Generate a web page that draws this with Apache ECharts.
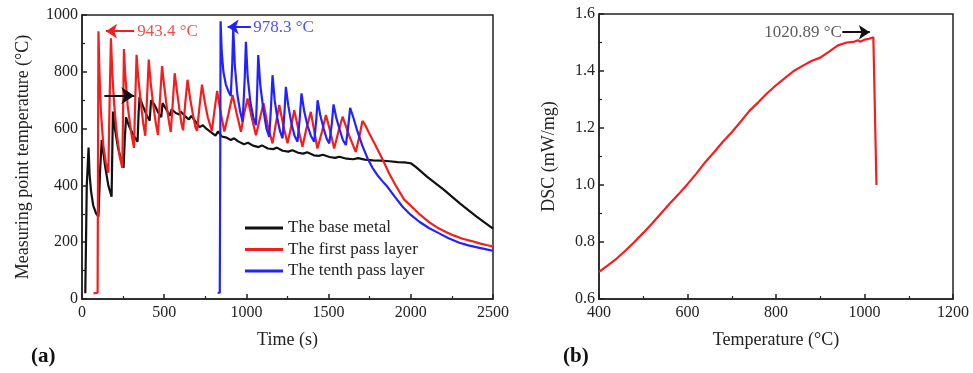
<!DOCTYPE html>
<html>
<head>
<meta charset="utf-8">
<script src="https://cdn.jsdelivr.net/npm/echarts@6/dist/echarts.min.js"></script>
<style>html,body{margin:0;padding:0;background:#fff}#c{width:973px;height:373px}</style>
</head>
<body>
<div id="c"></div>
<script>
// ---- data ----
const seriesNames = ['The base metal', 'The first pass layer', 'The tenth pass layer'];
const baseMetal = [[20,20],[27,22],[29,400],[36,402],[40,533],[46,440],[55,380],[68,330],[85,302],[100,290],[110,450],[120,560],[140,470],[160,400],[180,360],[188,660],[200,600],[220,530],[240,485],[253,462],[260,560],[268,640],[285,610],[310,580],[338,554],[344,650],[350,712],[370,680],[395,645],[412,628],[420,700],[440,685],[465,655],[482,640],[490,690],[510,670],[535,645],[545,668],[570,655],[592,650],[600,660],[625,645],[650,632],[665,645],[690,625],[715,605],[735,612],[760,598],[790,585],[812,575],[828,590],[850,572],[880,568],[905,560],[925,566],[950,555],[985,545],[1010,550],[1040,540],[1075,535],[1095,541],[1130,530],[1165,528],[1185,533],[1220,522],[1255,519],[1280,524],[1315,515],[1345,512],[1370,517],[1410,506],[1440,504],[1465,508],[1505,500],[1540,497],[1565,501],[1610,494],[1650,492],[1680,496],[1720,491],[1770,488],[1820,487],[1870,485],[1920,482],[1960,481],[2000,478],[2030,465],[2100,430],[2200,385],[2300,336],[2400,290],[2500,248]];
const firstPass = [[70,20],[95,22],[98,600],[100,943],[106,800],[115,660],[130,540],[145,480],[160,445],[168,700],[176,918],[184,800],[195,690],[212,580],[230,500],[245,462],[251,700],[255,880],[263,790],[278,680],[298,590],[316,532],[324,700],[332,860],[342,780],[358,690],[372,620],[385,575],[395,700],[406,843],[418,760],[434,680],[450,615],[462,578],[474,700],[487,820],[500,750],[516,675],[530,620],[540,588],[552,690],[564,795],[578,730],[593,665],[606,615],[615,594],[628,690],[642,772],[658,705],[676,645],[690,605],[700,592],[715,680],[730,755],[748,690],[765,640],[790,592],[805,660],[822,733],[842,660],[866,590],[890,650],[916,718],[940,655],[967,589],[985,650],[1007,706],[1032,640],[1058,577],[1080,630],[1104,689],[1130,610],[1159,548],[1180,620],[1200,683],[1225,610],[1250,548],[1270,600],[1291,665],[1315,600],[1341,536],[1365,600],[1392,659],[1410,600],[1432,530],[1460,590],[1484,648],[1510,590],[1534,530],[1560,590],[1585,642],[1625,575],[1665,518],[1690,580],[1706,627],[1720,615],[1750,580],[1777,550],[1808,515],[1838,480],[1870,440],[1910,398],[1960,350],[2011,322],[2060,295],[2113,270],[2160,252],[2214,236],[2260,224],[2315,212],[2370,204],[2418,196],[2460,190],[2500,185]];
const tenthPass = [[825,22],[838,22],[841,500],[843,978],[850,870],[860,800],[875,755],[893,728],[905,715],[914,830],[920,953],[930,820],[945,720],[962,660],[977,624],[990,780],[997,906],[1008,780],[1025,690],[1042,640],[1058,612],[1066,740],[1072,859],[1085,750],[1105,660],[1122,600],[1139,571],[1150,680],[1159,788],[1172,700],[1190,630],[1205,590],[1220,566],[1232,660],[1240,747],[1255,680],[1275,615],[1293,575],[1311,554],[1325,640],[1335,724],[1352,660],[1372,610],[1392,575],[1412,554],[1425,630],[1433,700],[1450,645],[1470,600],[1488,565],[1504,548],[1520,620],[1530,685],[1548,635],[1568,595],[1587,560],[1605,542],[1620,610],[1631,673],[1650,640],[1676,589],[1705,540],[1737,495],[1767,462],[1797,436],[1827,415],[1858,395],[1900,362],[1950,325],[2000,296],[2052,272],[2110,250],[2173,231],[2230,214],[2295,198],[2350,189],[2418,180],[2460,175],[2500,170]];
const dscTemp  = [400,420,440,460,480,500,520,540,560,580,600,620,640,660,680,700,720,740,760,780,800,820,840,860,880,900,920,940,960,975,985,990,1000,1010,1020,1021,1027];
const dscValue = [0.695,0.718,0.742,0.770,0.800,0.832,0.865,0.900,0.935,0.968,1.003,1.040,1.080,1.115,1.152,1.185,1.222,1.260,1.290,1.322,1.350,1.375,1.400,1.418,1.435,1.447,1.468,1.490,1.500,1.502,1.508,1.503,1.510,1.513,1.518,1.515,1.0];
const peakLabels = ['943.4 °C', '978.3 °C', '1020.89 °C'];

// ---- chart ----
const FONT = 'Liberation Serif';
const C_BLACK = '#111111', C_RED = '#f41e1e', C_BLUE = '#2222ff', AX = '#222';
const chart = echarts.init(document.getElementById('c'), null, {renderer: 'canvas'});

function xAx(gi, min, max, interval, name) {
  return {
    type: 'value', gridIndex: gi, min, max, interval,
    name, nameLocation: 'middle', nameGap: 32,
    nameTextStyle: {fontFamily: FONT, fontSize: 18, color: AX},
    axisLine: {show: true, onZero: false, lineStyle: {color: AX, width: 1.5}},
    axisTick: {show: true, inside: true, length: 5, lineStyle: {color: AX, width: 1.5}},
    minorTick: {show: true, splitNumber: 2, length: 3, lineStyle: {color: AX, width: 1.2}},
    axisLabel: {fontFamily: FONT, fontSize: 16, color: AX, margin: 6, formatter: v => String(v)},
    splitLine: {show: false}
  };
}
function yAx(gi, min, max, interval, name, gap, fmt) {
  return {
    type: 'value', gridIndex: gi, min, max, interval,
    name, nameLocation: 'middle', nameGap: gap,
    nameTextStyle: {fontFamily: FONT, fontSize: 18, color: AX},
    axisLine: {show: true, onZero: false, lineStyle: {color: AX, width: 1.5}},
    axisTick: {show: true, inside: true, length: 5, lineStyle: {color: AX, width: 1.5}},
    minorTick: {show: true, splitNumber: 2, length: 3, lineStyle: {color: AX, width: 1.2}},
    axisLabel: {fontFamily: FONT, fontSize: 16, color: AX, margin: 4, formatter: fmt},
    splitLine: {show: false}
  };
}
function arrow(from, to, color, size) {
  return {
    silent: true, symbol: ['none', 'arrow'], symbolSize: size || 11,
    lineStyle: {type: 'solid', color, width: 2},
    label: {show: false}, emphasis: {disabled: true},
    data: [[{coord: from}, {coord: to}]]
  };
}
function textSeries(xi, yi, pt, text, color, pos, arrowLine) {
  return {
    type: 'scatter', xAxisIndex: xi, yAxisIndex: yi, silent: true, z: 5,
    symbolSize: 0, data: [pt],
    label: {show: true, position: pos, distance: 0, formatter: text,
            fontFamily: FONT, fontSize: 17, color},
    markLine: arrowLine
  };
}

chart.setOption({
  animation: false,
  backgroundColor: '#fff',
  grid: [
    {left: 82, top: 15, width: 411, height: 284, show: true, borderColor: AX, borderWidth: 1.5, backgroundColor: 'transparent'},
    {left: 599, top: 14, width: 354, height: 285, show: true, borderColor: AX, borderWidth: 1.5, backgroundColor: 'transparent'}
  ],
  xAxis: [
    xAx(0, 0, 2500, 500, 'Time (s)'),
    xAx(1, 400, 1200, 200, 'Temperature (°C)')
  ],
  yAxis: [
    yAx(0, 0, 1000, 200, 'Measuring point temperature (°C)', 50, v => String(v)),
    yAx(1, 0.6, 1.6, 0.2, 'DSC (mW/mg)', 41, v => v.toFixed(1))
  ],
  legend: {
    data: seriesNames, orient: 'vertical', left: 245, top: 219, padding: 0,
    icon: 'rect', itemWidth: 38, itemHeight: 3, itemGap: 3.5,
    textStyle: {fontFamily: FONT, fontSize: 17, color: AX, lineHeight: 18},
    selectedMode: false
  },
  graphic: [
    {type: 'text', left: 31, top: 346, style: {text: '(a)', font: 'bold 21px "Liberation Serif"', fill: '#111'}},
    {type: 'text', left: 563, top: 346, style: {text: '(b)', font: 'bold 21px "Liberation Serif"', fill: '#111'}}
  ],
  series: [
    {name: seriesNames[0], type: 'line', xAxisIndex: 0, yAxisIndex: 0, data: baseMetal, showSymbol: false, symbol: 'none',
     lineStyle: {color: C_BLACK, width: 2.2}, itemStyle: {color: C_BLACK}},
    {name: seriesNames[1], type: 'line', xAxisIndex: 0, yAxisIndex: 0, data: firstPass, showSymbol: false, symbol: 'none',
     lineStyle: {color: C_RED, width: 2.2}, itemStyle: {color: C_RED}},
    {name: seriesNames[2], type: 'line', xAxisIndex: 0, yAxisIndex: 0, data: tenthPass, showSymbol: false, symbol: 'none',
     lineStyle: {color: C_BLUE, width: 2.2}, itemStyle: {color: C_BLUE}},
    {name: 'DSC', type: 'line', xAxisIndex: 1, yAxisIndex: 1, data: dscTemp.map((t, i) => [t, dscValue[i]]),
     showSymbol: false, symbol: 'none', lineStyle: {color: C_RED, width: 2.2}, itemStyle: {color: C_RED}},
    textSeries(0, 0, [336, 943], peakLabels[0], C_RED, 'right', arrow([318, 943], [146, 943], C_RED)),
    textSeries(0, 0, [1042, 955], peakLabels[1], C_BLUE, 'right', arrow([1027, 958], [886, 958], C_BLUE)),
    textSeries(0, 0, [136, 716], '', C_BLACK, 'right', arrow([136, 716], [318, 716], C_BLACK, 13)),
    textSeries(1, 1, [949, 1.536], peakLabels[2], '#333', 'left', arrow([950, 1.536], [1012, 1.536], C_BLACK))
  ]
});
</script>
</body>
</html>
